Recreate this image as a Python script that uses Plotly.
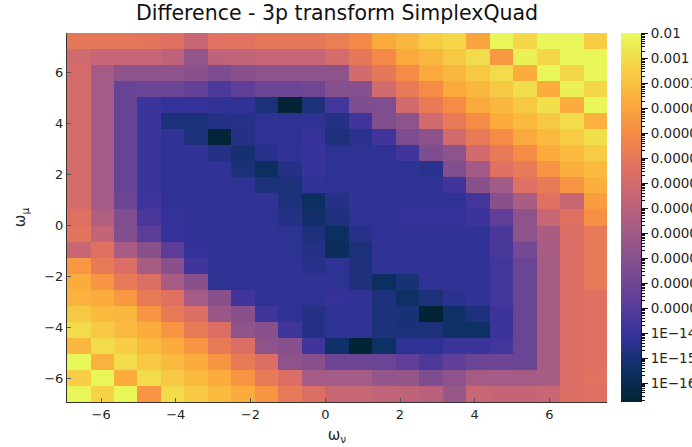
import math
import plotly.graph_objects as go
import plotly.colors as pc

# Matsubara frequencies (beta = 10), cell centres on both axes
omega_nu = [-6.597, -5.969, -5.341, -4.712, -4.084, -3.456, -2.827, -2.199, -1.571, -0.942, -0.314,
            0.314, 0.942, 1.571, 2.199, 2.827, 3.456, 4.084, 4.712, 5.341, 5.969, 6.597, 7.226]
omega_mu = list(omega_nu)

# log10 of the difference, rows listed from the TOP (omega_mu = 7.226) to the BOTTOM (omega_mu = -6.597)
log10_diff_top_to_bottom = [
    [-7.0,-7.0,-7.0,-7.2,-7.4,-8.4,-7.35,-7.3,-7.0,-7.0,-7.0,-6.7,-6.1,-4.8,-4.3,-3.6,-3.2,-5.0,-2.1,-3.2,-2.1,-2.1,-3.6],
    [-8.1,-8.5,-8.5,-8.5,-8.8,-10.5,-8.8,-8.7,-8.5,-8.5,-8.5,-7.9,-7.0,-6.1,-4.8,-4.3,-3.7,-3.0,-5.5,-2.3,-3.2,-2.1,-2.1],
    [-7.9,-9.8,-10.7,-10.7,-10.7,-10.9,-11.5,-10.9,-10.7,-10.7,-10.7,-10.7,-8.0,-7.0,-6.0,-4.8,-4.3,-3.7,-3.0,-4.7,-2.1,-3.2,-2.1],
    [-7.9,-9.8,-12.3,-12.2,-12.2,-12.5,-13.3,-12.6,-12.2,-12.2,-12.0,-11.1,-11.1,-8.0,-6.9,-6.0,-4.8,-4.3,-3.7,-3.0,-4.7,-2.3,-3.2],
    [-7.9,-9.8,-12.3,-13.9,-14.1,-14.1,-14.2,-14.2,-14.9,-16.7,-14.9,-13.6,-11.4,-11.3,-8.0,-6.9,-6.0,-4.8,-4.3,-3.7,-2.9,-4.7,-2.1],
    [-7.9,-9.8,-12.3,-13.9,-14.9,-14.9,-14.6,-14.5,-14.3,-14.3,-14.3,-14.6,-13.7,-11.2,-10.7,-8.0,-6.9,-6.0,-4.7,-4.2,-3.7,-3.0,-4.5],
    [-7.9,-9.8,-12.3,-13.9,-14.2,-14.9,-16.6,-14.6,-14.3,-14.3,-14.0,-14.8,-14.4,-13.7,-11.4,-10.8,-8.0,-6.9,-6.0,-4.8,-4.2,-3.6,-2.9],
    [-7.9,-9.8,-12.3,-13.9,-14.2,-14.2,-14.6,-15.1,-14.5,-14.2,-14.0,-14.3,-14.3,-14.3,-13.7,-11.4,-10.7,-8.0,-6.9,-6.0,-4.7,-4.2,-3.6],
    [-7.9,-9.8,-12.3,-13.9,-14.2,-14.2,-14.2,-14.9,-15.5,-14.6,-14.0,-14.3,-14.3,-14.3,-14.3,-14.4,-11.3,-9.9,-7.4,-6.9,-5.6,-4.6,-4.2],
    [-7.9,-9.8,-12.3,-13.9,-14.2,-14.2,-14.2,-14.3,-14.9,-14.9,-14.2,-14.3,-14.3,-14.3,-14.3,-14.3,-13.7,-10.9,-9.9,-7.4,-6.9,-5.6,-4.6],
    [-7.9,-9.8,-12.1,-13.7,-14.2,-14.2,-14.2,-14.2,-14.2,-14.9,-15.5,-14.6,-14.2,-14.2,-14.2,-14.2,-14.2,-13.6,-10.9,-9.6,-7.4,-8.4,-5.3],
    [-7.4,-9.3,-11.3,-13.4,-14.1,-14.2,-14.2,-14.2,-14.3,-14.6,-15.2,-14.8,-14.3,-14.2,-14.1,-14.1,-14.1,-13.8,-12.6,-10.7,-8.4,-7.4,-5.8],
    [-7.2,-8.6,-11.2,-12.8,-14.1,-14.2,-14.2,-14.2,-14.2,-14.3,-14.8,-15.5,-14.5,-14.2,-14.2,-14.2,-14.2,-14.2,-13.4,-10.7,-9.6,-7.6,-6.9],
    [-8.4,-7.4,-9.6,-10.9,-12.8,-14.1,-14.2,-14.2,-14.2,-14.3,-14.6,-15.6,-14.9,-14.2,-14.2,-14.2,-14.2,-14.2,-13.4,-11.8,-9.6,-7.6,-6.9],
    [-5.5,-6.9,-7.6,-9.7,-10.9,-13.7,-14.2,-14.2,-14.2,-14.2,-14.5,-14.3,-14.8,-14.2,-14.2,-14.2,-14.2,-14.2,-13.6,-12.2,-9.7,-7.6,-6.9],
    [-4.7,-5.6,-6.9,-7.6,-9.7,-10.9,-14.3,-14.2,-14.2,-14.2,-14.2,-14.3,-14.8,-15.5,-15.0,-14.2,-14.2,-14.2,-13.6,-12.2,-9.7,-7.6,-6.9],
    [-4.5,-4.7,-5.5,-6.9,-7.4,-9.8,-10.9,-13.7,-14.2,-14.2,-14.3,-14.1,-14.2,-14.8,-15.4,-14.9,-14.4,-14.2,-13.6,-12.2,-9.7,-7.6,-7.4],
    [-3.7,-4.2,-4.3,-5.6,-6.9,-7.6,-10.2,-10.9,-13.7,-14.3,-14.6,-14.3,-14.2,-14.8,-15.0,-16.7,-15.3,-14.8,-13.8,-12.2,-9.7,-7.6,-7.4],
    [-3.0,-3.7,-4.2,-4.7,-5.6,-6.9,-7.6,-10.7,-11.0,-13.7,-14.6,-14.3,-14.2,-14.8,-14.9,-14.9,-15.4,-15.4,-13.8,-12.2,-9.7,-7.6,-7.4],
    [-4.3,-3.0,-3.5,-4.2,-4.7,-5.6,-6.9,-7.6,-10.7,-11.0,-13.7,-15.3,-16.7,-15.4,-14.3,-14.3,-13.9,-13.9,-13.6,-12.2,-9.7,-7.6,-7.4],
    [-2.0,-4.5,-3.0,-3.7,-4.2,-4.7,-5.6,-6.9,-7.6,-10.7,-11.0,-12.1,-12.1,-12.2,-12.6,-13.3,-12.6,-12.2,-12.1,-12.2,-9.7,-7.6,-7.4],
    [-3.5,-2.1,-4.7,-3.0,-3.7,-4.2,-4.7,-5.6,-6.9,-7.6,-9.8,-9.8,-9.8,-10.5,-10.4,-11.4,-10.7,-9.8,-9.8,-9.8,-9.7,-7.6,-7.3],
    [-2.1,-3.3,-2.1,-5.6,-3.0,-3.7,-4.2,-4.7,-5.6,-6.9,-7.6,-8.4,-8.4,-8.7,-8.8,-9.0,-10.3,-8.4,-8.6,-8.6,-8.4,-7.6,-7.4],
]

x_ticks = [-6, -4, -2, 0, 2, 4, 6]
cbar_exponents = [-2, -3, -4, -5, -6, -7, -8, -9, -10, -11, -12, -13, -14, -15, -16]
cbar_ticktext = ["0.01", "0.001", "0.0001", "0.00001", "0.000001", "0.0000001", "0.00000001",
                 "0.000000001", "0.0000000001", "0.00000000001", "0.000000000001",
                 "0.0000000000001", "1E\u221214", "1E\u221215", "1E\u221216"]
c_min, c_max = -16.76, -1.97

z_rows = log10_diff_top_to_bottom[::-1]   # bottom-to-top to match omega_mu ascending

minor_vals = []
for e in range(-17, -1):
    for k in range(2, 10):
        v = e + math.log10(k)
        if c_min <= v <= c_max:
            minor_vals.append(v)

FONT = "DejaVu Sans"
W, H = 692, 447
ml, mr, mt, mb = 67, 46, 33, 45
pw = W - ml - mr
plot_w = 540

fig = go.Figure()
fig.add_trace(go.Heatmap(
    x=omega_nu, y=omega_mu, z=z_rows,
    colorscale=pc.cmocean.thermal, zmin=c_min, zmax=c_max,
    zsmooth=False,
    colorbar=dict(
        x=(621 - ml) / pw, xref="paper", xanchor="left", xpad=0,
        y=0.5, yanchor="middle", len=1, lenmode="fraction", ypad=0,
        thickness=20, thicknessmode="pixels",
        outlinewidth=0, ticks="", showticklabels=False,
    ),
))
fig.add_trace(go.Scatter(x=[None], y=[None], yaxis="y2", showlegend=False, hoverinfo="skip"))

fig.update_layout(
    width=W, height=H,
    margin=dict(l=ml, r=mr, t=mt, b=mb, pad=0, autoexpand=False),
    paper_bgcolor="white", plot_bgcolor="white",
    font=dict(family=FONT, size=13, color="#262626"),
    title=dict(text="Difference - 3p transform SimplexQuad",
               x=337 / W, xref="container", xanchor="center",
               y=1 - 13 / H, yref="container", yanchor="middle",
               font=dict(family=FONT, size=20.5, color="#111111")),
    xaxis=dict(domain=[0, plot_w / pw], range=[-6.912, 7.540],
               tickvals=x_ticks, ticks="inside", ticklen=4, tickcolor="#555555",
               showline=True, linecolor="#333333", linewidth=1, mirror=False,
               showgrid=False, zeroline=False,
               title=dict(text="ω<sub>ν</sub>", font=dict(size=15), standoff=8)),
    yaxis=dict(range=[-6.912, 7.540],
               tickvals=x_ticks, ticks="inside", ticklen=4, tickcolor="#555555",
               showline=True, linecolor="#333333", linewidth=1, mirror=False,
               showgrid=False, zeroline=False,
               title=dict(text="ω<sub>μ</sub>", font=dict(size=15), standoff=14)),
    yaxis2=dict(overlaying="y", anchor="free", position=(641 - ml) / pw, side="right",
                range=[c_min, c_max], tickvals=cbar_exponents, ticktext=cbar_ticktext,
                ticks="outside", ticklen=6, tickcolor="#111111",
                minor=dict(tickvals=minor_vals, ticks="outside", ticklen=3, tickcolor="#111111"),
                showline=True, linecolor="#111111", linewidth=1,
                showgrid=False, zeroline=False, tickfont=dict(size=13.5)),
)

fig.write_html("out.html")
